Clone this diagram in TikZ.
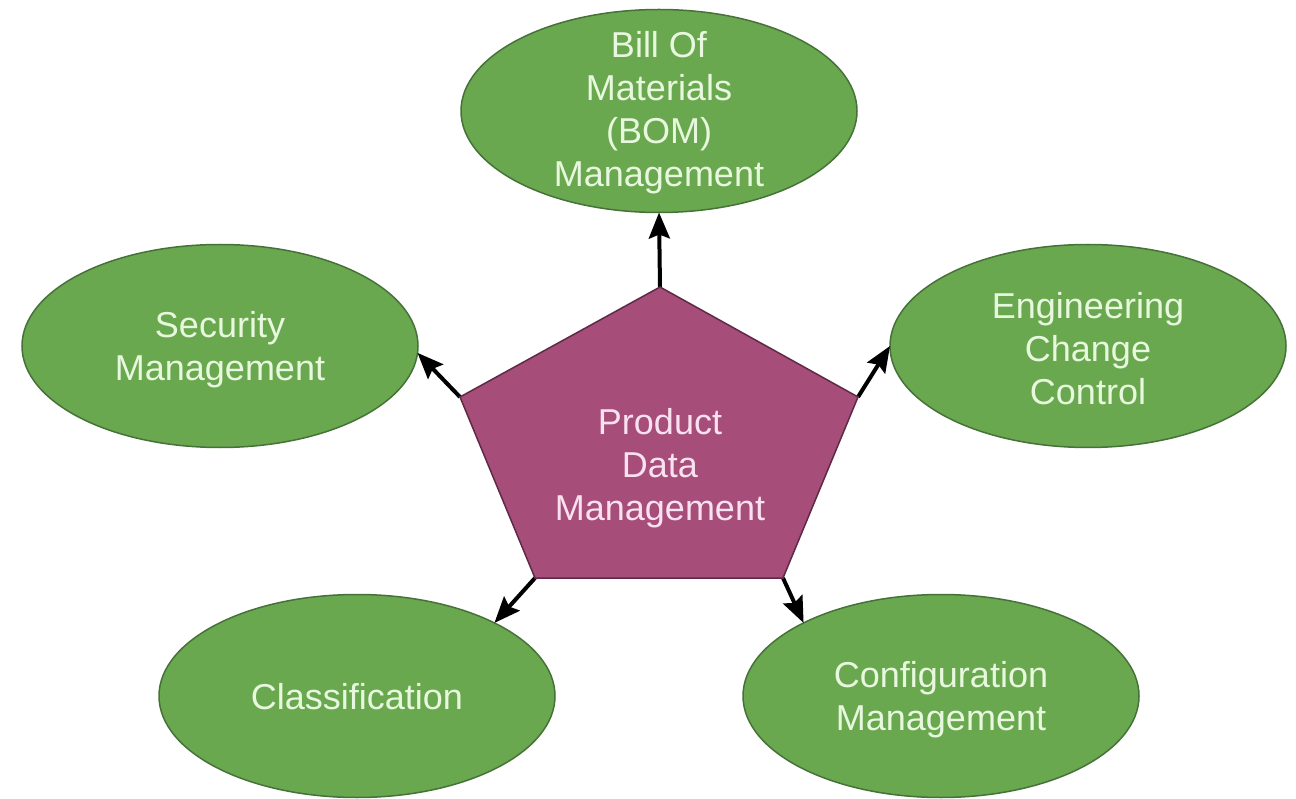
\documentclass[tikz,border=0pt]{standalone}
\usepackage{fontspec}
\setmainfont{Liberation Sans}
\usetikzlibrary{shapes.geometric,arrows.meta}
\definecolor{ovalgreen}{HTML}{6AA84F}
\definecolor{ovalborder}{HTML}{46723A}
\definecolor{ovaltext}{HTML}{E8F8DF}
\definecolor{pentfill}{HTML}{A64D79}
\definecolor{pentborder}{HTML}{5E2A45}
\definecolor{penttext}{HTML}{F9E1F0}
\tikzset{
  oval/.style={ellipse, draw=ovalborder, fill=ovalgreen, line width=1.5pt,
    minimum width=396pt, minimum height=203pt, inner sep=0pt, outer sep=0pt},
  ovaltxt/.style={text=ovaltext, align=center, inner sep=0pt,
    font=\fontsize{36}{43}\selectfont},
  penttxt/.style={text=penttext, align=center, inner sep=0pt,
    font=\fontsize{36}{43}\selectfont},
  pentshape/.style={draw=pentborder, fill=pentfill, line width=1.5pt, line join=miter},
  conn/.style={draw=black, line width=4pt,
    -{Stealth[length=26pt, width=21pt, inset=4pt]}}
}
\begin{document}
\begin{tikzpicture}[x=1pt, y=-1pt]
\useasboundingbox (0,0) rectangle (1296,799);
\fill[white] (0,0) rectangle (1296,799);

% ovals
\node[oval] (bom) at (659,111) {};
\node[oval] (sec) at (220,346) {};
\node[oval] (eng) at (1088,346) {};
\node[oval] (cls) at (357,696) {};
\node[oval] (cfg) at (941,696) {};

\node[ovaltxt] (bomt) at (659,113) {Bill Of\\Materials\\(BOM)\\Management};
\node[ovaltxt] (sect) at (220,350) {Security\\Management};
\node[ovaltxt] (engt) at (1088,349) {Engineering\\Change\\Control};
\node[ovaltxt] (clst) at (357,697) {Classification};
\node[ovaltxt] (cfgt) at (941,700) {Configuration\\Management};

% pentagon vertices
\coordinate (pt)  at (660,287);
\coordinate (pul) at (460,397);
\coordinate (pur) at (858,397);
\coordinate (pll) at (535,578);
\coordinate (plr) at (783,578);

% connectors
\draw[conn] (pt) -- (bom.south);
\draw[conn] (pul) -- (sec.-2);
\draw[conn] (pur) -- (eng.180);
\draw[conn] (pll) -- (cls.28);
\draw[conn] (plr) -- (cfg.152);

% pentagon
\path[pentshape] (pt) -- (pur) -- (plr) -- (pll) -- (pul) -- cycle;
\node[penttxt] (pdm) at (660,468) {Product\\Data\\Management};
\end{tikzpicture}
\end{document}
